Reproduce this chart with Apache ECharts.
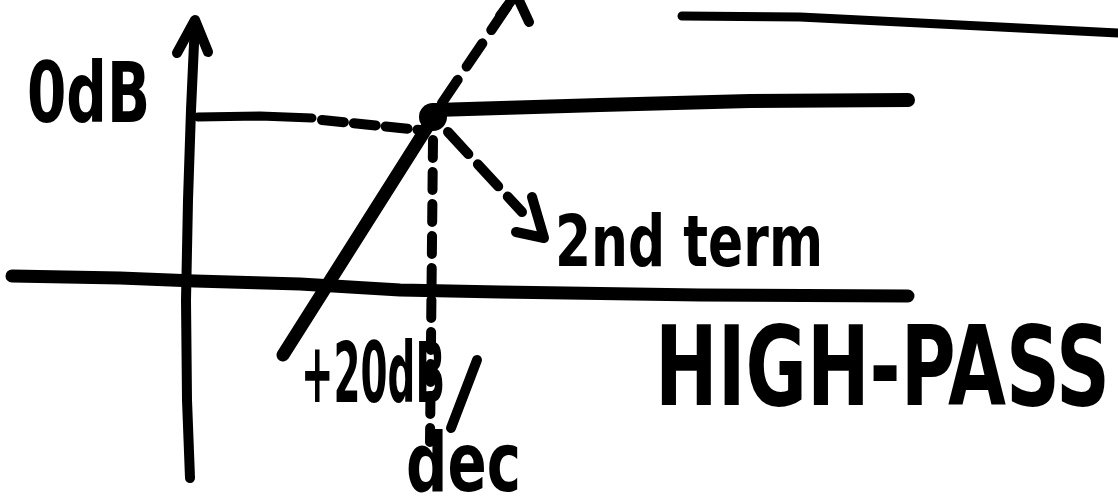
<!DOCTYPE html>
<html>
<head>
<meta charset="utf-8">
<script src="https://cdn.jsdelivr.net/npm/echarts@6/dist/echarts.min.js"></script>
<style>
  html, body { margin: 0; padding: 0; background: #fff; }
  #chart { width: 1118px; height: 501px; }
</style>
</head>
<body>
<div id="chart"></div>
<script>
// Bode magnitude sketch of a high-pass term, on a 1118 x 501 sketch plane (y grows downward)
const magnitudeAxis = [[190, 478], [187, 400], [186, 300], [188, 200], [191, 110], [195, 22]];
const magnitudeArrow = [[177, 53], [195, 20], [208, 52]];
const frequencyAxis = [[12, 276], [120, 278], [195, 281], [300, 284], [400, 290], [500, 292], [700, 295], [908, 296]];
const upperRule = [[682, 16], [800, 17], [900, 22], [1000, 27], [1118, 33]];
const zeroDbGuide = [[198, 117], [260, 116], [312, 118]];
const zeroDbDashes = [[322, 120], [420, 130]];
const passband = [[435, 110], [600, 105], [750, 101], [908, 100]];
const riseAsymptote = [[283, 355], [433, 118]];
const riseExtension = [[442, 103], [513, -2]];
const riseArrow = [[500, 16], [516, -6], [529, 22]];
const cornerDrop = [[433, 140], [430, 442]];
const termPointer = [[448, 132], [522, 212]];
const termArrow = [[532, 197], [544, 238], [516, 232]];
const slopeSlash = [[477, 360], [451, 428]];
const cornerPoint = [[433, 117]];

// Handwritten labels: text plus the left/right ends of its middle line
const labelTexts = ['0dB', '2nd term', '+20dB', 'dec', 'HIGH-PASS'];
const labelSpans = [
  [[27, 100], [150, 100]],
  [[555, 247], [823, 247]],
  [[301, 380], [445, 380]],
  [[406, 470], [521, 470]],
  [[655, 376], [1110, 376]]
];
const labelSizes = [84, 72, 84, 82, 110];

const INK = '#000';
const chart = echarts.init(document.getElementById('chart'), null, { renderer: 'canvas' });

function stroke(data, width, dash) {
  return {
    type: 'line',
    data: data,
    symbol: 'none',
    silent: true,
    animation: false,
    smooth: false,
    clip: false,
    lineStyle: {
      color: INK,
      width: width,
      opacity: 1,
      type: dash || 'solid',
      cap: 'round',
      join: 'round'
    }
  };
}

chart.setOption({
  backgroundColor: '#fff',
  animation: false,
  grid: { left: 0, right: 0, top: 0, bottom: 0 },
  xAxis: { type: 'value', min: 0, max: 1118, show: false },
  yAxis: { type: 'value', min: 0, max: 501, inverse: true, show: false },
  series: [
    stroke(magnitudeAxis, 10),
    stroke(magnitudeArrow, 10),
    stroke(frequencyAxis, 13),
    stroke(upperRule, 9),
    stroke(zeroDbGuide, 9),
    stroke(zeroDbDashes, 10, [22, 10]),
    stroke(passband, 14),
    stroke(riseAsymptote, 13),
    stroke(riseExtension, 10, [28, 16]),
    stroke(riseArrow, 10),
    stroke(cornerDrop, 10, [18, 14]),
    stroke(termPointer, 10, [30, 14]),
    stroke(termArrow, 10),
    stroke(slopeSlash, 10),
    {
      type: 'scatter',
      data: cornerPoint,
      symbol: 'circle',
      symbolSize: 28,
      silent: true,
      itemStyle: { color: INK, opacity: 1 }
    }
  ]
});

// Place the labels through the grid's coordinate system, squeezing each to its span
const FONT_FAMILY = "'DejaVu Sans Condensed', 'DejaVu Sans', sans-serif";
const measure = document.createElement('canvas').getContext('2d');
const graphics = labelTexts.map(function (text, i) {
  const a = chart.convertToPixel({ gridIndex: 0 }, labelSpans[i][0]);
  const b = chart.convertToPixel({ gridIndex: 0 }, labelSpans[i][1]);
  const size = labelSizes[i];
  measure.font = 'bold ' + size + 'px ' + FONT_FAMILY;
  const natural = measure.measureText(text).width;
  return {
    type: 'text',
    x: a[0],
    y: a[1],
    originX: 0,
    originY: 0,
    scaleX: (b[0] - a[0]) / natural,
    silent: true,
    style: {
      text: text,
      fontSize: size,
      fontWeight: 'bold',
      fontFamily: FONT_FAMILY,
      fill: INK,
      align: 'left',
      verticalAlign: 'middle'
    }
  };
});
chart.setOption({ graphic: graphics });
</script>
</body>
</html>
